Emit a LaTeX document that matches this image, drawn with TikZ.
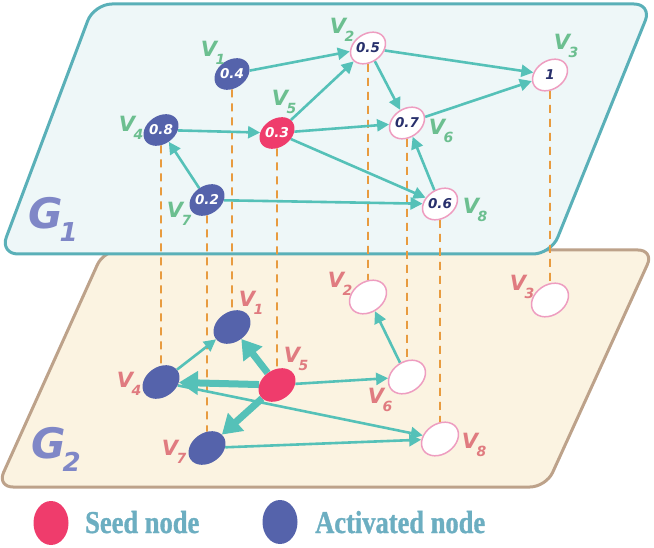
\documentclass[tikz,border=0pt]{standalone}
\usepackage{fontspec}
\setmainfont{Liberation Serif}
\newfontfamily\popf{DejaVu Sans}
\newfontfamily\legf{Liberation Serif}[FakeBold=1.2]
\usetikzlibrary{arrows.meta,shapes.geometric}
\definecolor{plA}{HTML}{EEF7F8}
\definecolor{plAb}{HTML}{5AB0B8}
\definecolor{plB}{HTML}{FBF3E1}
\definecolor{plBb}{HTML}{BDA28A}
\definecolor{tealc}{HTML}{55C1B8}
\definecolor{actc}{HTML}{5563AB}
\definecolor{seedc}{HTML}{EF3C6C}
\definecolor{pinkb}{HTML}{EE9DC0}
\definecolor{orng}{HTML}{E89B3F}
\definecolor{grn}{HTML}{6CBF90}
\definecolor{rose}{HTML}{E07B80}
\definecolor{lav}{HTML}{7F87C7}
\definecolor{dnavy}{HTML}{28306C}
\definecolor{legc}{HTML}{6CAEC1}
\newcommand{\vlab}[1]{{\popf\bfseries\itshape\fontsize{21}{21}\selectfont V\kern-1.5pt\raisebox{-8pt}{\fontsize{14}{14}\selectfont #1}}}
\newcommand{\glab}[1]{{\popf\bfseries\itshape\fontsize{42}{42}\selectfont G\kern-3pt\raisebox{-13pt}{\fontsize{26}{26}\selectfont #1}}}
\pgfdeclarelayer{bg}
\pgfsetlayers{bg,main}
\tikzset{
  gnode/.style={ellipse, inner sep=0pt, rotate=35},
  smn/.style={gnode, minimum width=38pt, minimum height=28pt},
  lgn/.style={gnode, minimum width=40pt, minimum height=30pt},
  act/.style={fill=actc},
  sd/.style={fill=seedc},
  ina/.style={fill=white, draw=pinkb, line width=1.5pt},
  numw/.style={text=white, font=\popf\bfseries\itshape\fontsize{13.5}{13.5}\selectfont, inner sep=0pt},
  numd/.style={numw, text=dnavy},
  l1/.style={text=grn, inner sep=0pt},
  l2/.style={text=rose, inner sep=0pt},
  ea/.style={draw=tealc, line width=2.6pt, -{Triangle[length=12pt,width=12pt]}},
  ek/.style={draw=tealc, line width=7pt, -{Triangle[length=19pt,width=23pt]}},
  dsh/.style={draw=orng, line width=1.8pt, dash pattern=on 8pt off 6pt},
  legt/.style={text=legc, anchor=base west, inner sep=0pt, font=\legf\bfseries\fontsize{26.5}{26.5}\selectfont}
}
\begin{document}
\begin{tikzpicture}[x=1pt,y=-1pt]
\useasboundingbox (0,0) rectangle (654,548);
% G1 nodes
\node[smn,act] (a1) at (232,74) {};
\node[smn,ina] (a2) at (368,48) {};
\node[smn,ina] (a3) at (550,75) {};
\node[smn,act] (a4) at (161,130) {};
\node[smn,sd]  (a5) at (277,133) {};
\node[smn,ina] (a6) at (407,123) {};
\node[smn,act] (a7) at (207,200) {};
\node[smn,ina] (a8) at (440,204) {};
\node[numw] (t1) at (a1) {0.4};
\node[numd] (t2) at (a2) {0.5};
\node[numd] (t3) at (a3) {1};
\node[numw] (t4) at (a4) {0.8};
\node[numw] (t5) at (a5) {0.3};
\node[numd] (t6) at (a6) {0.7};
\node[numw] (t7) at (a7) {0.2};
\node[numd] (t8) at (a8) {0.6};
% G2 nodes
\node[lgn,act] (b1) at (232,327) {};
\node[lgn,ina] (b2) at (368,297) {};
\node[lgn,ina] (b3) at (550,300) {};
\node[lgn,act] (b4) at (161,382) {};
\node[lgn,sd]  (b5) at (277,385) {};
\node[lgn,ina] (b6) at (407,377) {};
\node[lgn,act] (b7) at (207,448) {};
\node[lgn,ina] (b8) at (440,439) {};
% labels G1
\node[l1] (k1) at (213,53) {\vlab{1}};
\node[l1] (k2) at (342,30) {\vlab{2}};
\node[l1] (k3) at (566,46) {\vlab{3}};
\node[l1] (k4) at (131,128) {\vlab{4}};
\node[l1] (k5) at (284,102) {\vlab{5}};
\node[l1] (k6) at (441,131) {\vlab{6}};
\node[l1] (k7) at (179,214) {\vlab{7}};
\node[l1] (k8) at (475,210) {\vlab{8}};
% labels G2
\node[l2] (m1) at (251,303) {\vlab{1}};
\node[l2] (m2) at (340,284) {\vlab{2}};
\node[l2] (m3) at (522,287) {\vlab{3}};
\node[l2] (m4) at (129,384) {\vlab{4}};
\node[l2] (m5) at (296,359) {\vlab{5}};
\node[l2] (m6) at (380,400) {\vlab{6}};
\node[l2] (m7) at (174,452) {\vlab{7}};
\node[l2] (m8) at (474,445) {\vlab{8}};
% plane labels
\node[text=lav, inner sep=0pt] (g1) at (53,219) {\glab{1}};
\node[text=lav, inner sep=0pt] (g2) at (56,449) {\glab{2}};
% legend
\node[ellipse, fill=seedc, minimum width=35pt, minimum height=44pt, inner sep=0pt] (ls) at (51,523) {};
\node[ellipse, fill=actc, minimum width=35pt, minimum height=44pt, inner sep=0pt] (la) at (280,522) {};
\node[legt] (lst) at (85,533) {\scalebox{1}[1.2]{Seed node}};
\node[legt] (lat) at (315,533) {\scalebox{1}[1.2]{Activated node}};
\begin{pgfonlayer}{bg}
\draw[fill=plB, draw=plBb, line width=3pt, rounded corners=16pt]
  (300,250) -- (654,250) -- (546,487) -- (-3,487) -- (104,250) -- cycle;
\draw[fill=plA, draw=plAb, line width=3pt, rounded corners=18pt]
  (300,4) -- (652,4) -- (551,254) -- (0,254) -- (94,4) -- cycle;
\foreach \i in {1,...,8} { \draw[dsh] (a\i) -- (b\i); }
% G1 edges
\draw[ea] (a1) -- (a2);
\draw[ea] (a5) -- (a2);
\draw[ea] (a2) -- (a3);
\draw[ea] (a2) -- (a6);
\draw[ea] (a5) -- (a6);
\draw[ea] (a6) -- (a3);
\draw[ea] (a4) -- (a5);
\draw[ea] (a7) -- (a4);
\draw[ea] (a5) -- (a8);
\draw[ea] (a7) -- (a8);
\draw[ea] (a8) -- (a6);
% G2 edges
\draw[ea] (b4) -- (b1);
\draw[ea] (b5) -- (b6);
\draw[ea] (b4) -- (b8);
\draw[ea] (b7) -- (b8);
\draw[ea] (b6) -- (b2);
\draw[ek] (b5) -- (b1);
\draw[ek] (b5) -- (b4);
\draw[ek] (b5) -- (b7);
\end{pgfonlayer}
\end{tikzpicture}
\end{document}
